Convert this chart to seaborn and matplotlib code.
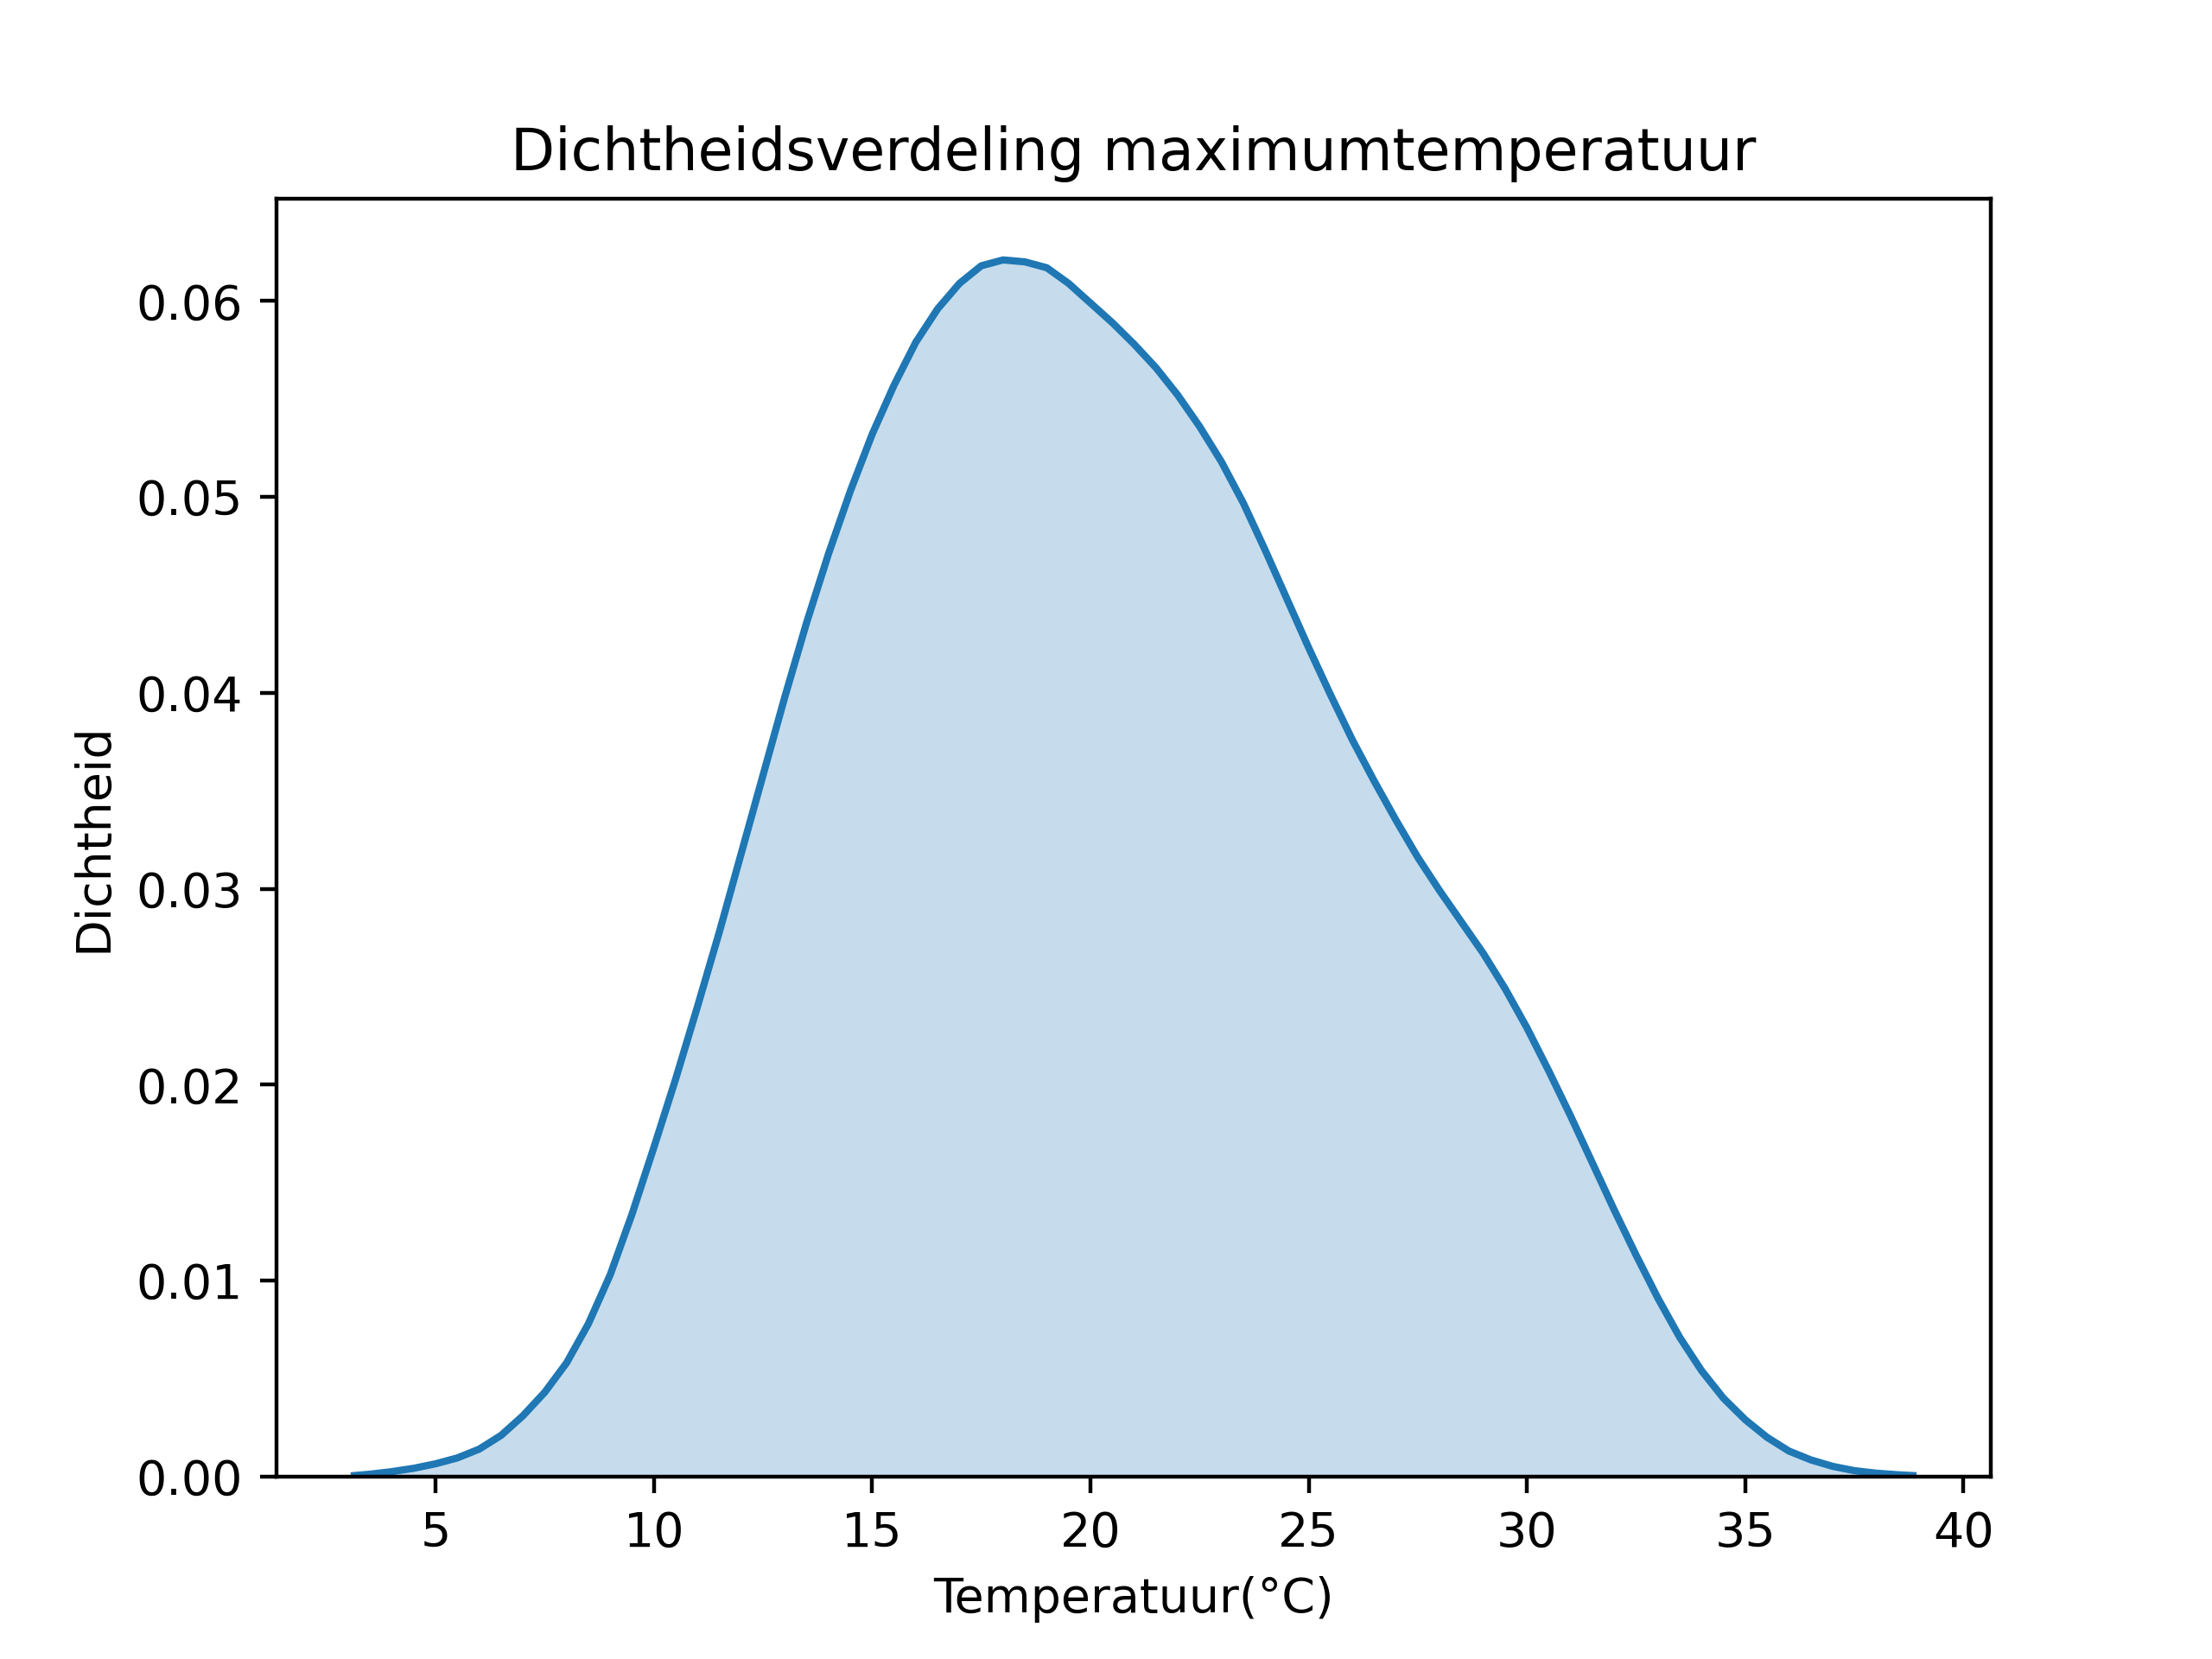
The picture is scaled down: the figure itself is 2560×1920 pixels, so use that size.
"""
Dichtheidsverdeling van de maximumtemperatuur (KDE curve, read off the chart).
"""
import pandas as pd
import seaborn as sns
import matplotlib
matplotlib.use('Agg')
import matplotlib.pyplot as plt

# temperature (deg C) and estimated density along the KDE curve
temperatuur = [3.14, 3.5, 4.0, 4.5, 5.0, 5.5, 6.0, 6.5, 7.0, 7.5, 8.0, 8.5,
               9.0, 9.5, 10.0, 10.5, 11.0, 11.5, 12.0, 12.5, 13.0, 13.5,
               14.0, 14.5, 15.0, 15.5, 16.0, 16.5, 17.0, 17.5, 18.0, 18.5,
               19.0, 19.5, 20.0, 20.5, 21.0, 21.5, 22.0, 22.5, 23.0, 23.5,
               24.0, 24.5, 25.0, 25.5, 26.0, 26.5, 27.0, 27.5, 28.0, 28.5,
               29.0, 29.5, 30.0, 30.5, 31.0, 31.5, 32.0, 32.5, 33.0, 33.5,
               34.0, 34.5, 35.0, 35.5, 36.0, 36.5, 37.0, 37.5, 38.0, 38.5,
               38.84]
dichtheid = [0.00005, 0.00012, 0.00025, 0.00042, 0.00065, 0.00095, 0.0014,
             0.0021, 0.0031, 0.0043, 0.0058, 0.0078, 0.0103, 0.0134, 0.0168,
             0.0203, 0.0240, 0.0278, 0.0318, 0.0358, 0.0398, 0.0436, 0.0471,
             0.0503, 0.0532, 0.0557, 0.0579, 0.0596, 0.0609, 0.0618, 0.0621,
             0.0620, 0.0617, 0.0609, 0.0599, 0.0589, 0.0578, 0.0566, 0.0552,
             0.0536, 0.0518, 0.0497, 0.0473, 0.0448, 0.0423, 0.0399, 0.0376,
             0.0355, 0.0335, 0.0316, 0.0299, 0.0283, 0.0267, 0.0249, 0.0229,
             0.0207, 0.0184, 0.0160, 0.0136, 0.0113, 0.0091, 0.0071, 0.0054,
             0.0040, 0.0029, 0.0020, 0.0013, 0.00085, 0.00052, 0.0003,
             0.00017, 0.00009, 0.00005]

df = pd.DataFrame({'temperatuur': temperatuur, 'dichtheid': dichtheid})

fig, ax = plt.subplots(figsize=(6.4, 4.8), dpi=400)
ax.fill_between(df['temperatuur'], df['dichtheid'], color='C0', alpha=0.25,
                linewidth=0)
sns.lineplot(data=df, x='temperatuur', y='dichtheid', color='C0', ax=ax)
ax.set_ylim(bottom=0)

ax.set_title('Dichtheidsverdeling maximumtemperatuur')
ax.set_xlabel('Temperatuur(°C)')
ax.set_ylabel('Dichtheid')

fig.savefig('out.png', dpi=400)
